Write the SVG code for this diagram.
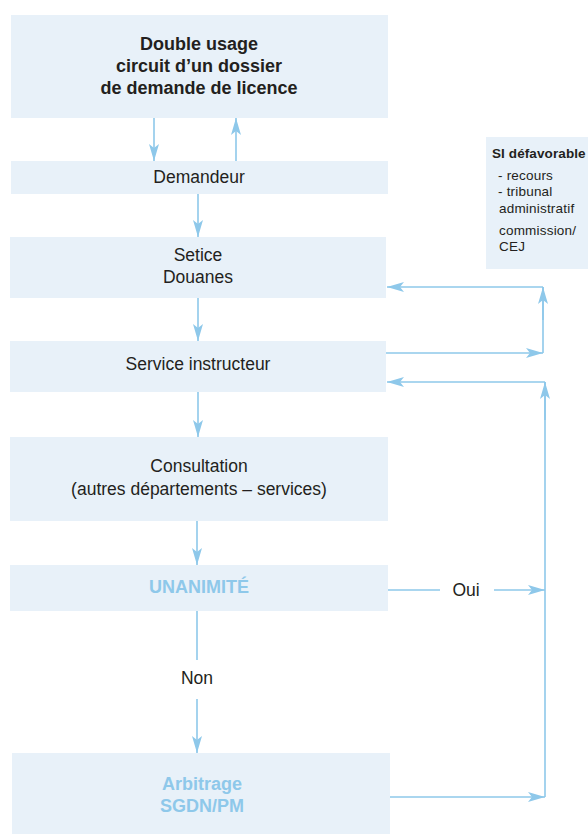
<svg xmlns="http://www.w3.org/2000/svg" width="588" height="834" viewBox="0 0 588 834">
  <style>
    .box { fill: #e8f1f9; }
    .t { font-family: "Liberation Sans", Arial, sans-serif; font-size: 17.5px; fill: #231f20; text-anchor: middle; }
    .tb { font-family: "Liberation Sans", Arial, sans-serif; font-size: 18px; font-weight: bold; fill: #231f20; text-anchor: middle; }
    .hl { fill: #8ec8ea; }
    .side { font-family: "Liberation Sans", Arial, sans-serif; font-size: 13.5px; letter-spacing: 0.2px; fill: #231f20; }
    .sideb { font-family: "Liberation Sans", Arial, sans-serif; font-size: 13.5px; font-weight: bold; letter-spacing: 0.1px; fill: #231f20; }
    .c { fill: none; stroke: #8ec8ea; stroke-width: 1.6; }
    .ca { fill: none; stroke: #8ec8ea; stroke-width: 1.6; marker-end: url(#arr); }
  </style>
  <defs>
    <marker id="arr" markerUnits="userSpaceOnUse" markerWidth="18" markerHeight="10" refX="17" refY="5" orient="auto">
      <path d="M0,0 L17,5 L0,10 L4,5 z" fill="#8ec8ea"/>
    </marker>
  </defs>
  <rect width="588" height="834" fill="#ffffff"/>

  <g id="titre">
    <rect class="box" x="11" y="15" width="377" height="103"/>
    <text class="tb" x="199" y="50">Double usage</text>
    <text class="tb" x="199" y="72">circuit d’un dossier</text>
    <text class="tb" x="199" y="94">de demande de licence</text>
  </g>

  <g id="demandeur">
    <rect class="box" x="11" y="161" width="377" height="33"/>
    <text class="t" x="199" y="183">Demandeur</text>
  </g>

  <g id="setice">
    <rect class="box" x="10" y="237" width="376" height="61"/>
    <text class="t" x="198" y="261">Setice</text>
    <text class="t" x="198" y="283">Douanes</text>
  </g>

  <g id="service">
    <rect class="box" x="10" y="341" width="376" height="51"/>
    <text class="t" x="198" y="370">Service instructeur</text>
  </g>

  <g id="consultation">
    <rect class="box" x="10" y="437" width="378" height="84"/>
    <text class="t" x="199" y="472">Consultation</text>
    <text class="t" x="199" y="495">(autres départements – services)</text>
  </g>

  <g id="unanimite">
    <rect class="box" x="10" y="565" width="378" height="46"/>
    <text class="tb hl" x="199" y="593">UNANIMITÉ</text>
  </g>

  <g id="arbitrage">
    <rect class="box" x="12" y="753" width="378" height="81"/>
    <text class="tb hl" x="202" y="790">Arbitrage</text>
    <text class="tb hl" x="202" y="812">SGDN/PM</text>
  </g>

  <g id="defavorable">
    <rect class="box" x="486" y="137" width="102" height="132"/>
    <text class="sideb" x="492" y="158">SI défavorable</text>
    <text class="side" x="498" y="180">- recours</text>
    <text class="side" x="498" y="196">- tribunal</text>
    <text class="side" x="499" y="213">administratif</text>
    <text class="side" x="499" y="235">commission/</text>
    <text class="side" x="499" y="251">CEJ</text>
  </g>

  <g id="connecteurs">
    <path class="ca" d="M154,118 V161"/>
    <path class="ca" d="M236,161 V118"/>
    <path class="ca" d="M198,194 V237"/>
    <path class="ca" d="M198,298 V341"/>
    <path class="ca" d="M198,392 V437"/>
    <path class="ca" d="M197,521 V565"/>
    <path class="c" d="M197,611 V660"/>
    <path class="ca" d="M197,699 V753"/>
    <path class="c" d="M388,590 H440"/>
    <path class="ca" d="M494,590 H545"/>
    <path class="ca" d="M390,797 H545"/>
    <path class="c" d="M545,797 V382"/>
    <path class="ca" d="M545,420 V382"/>
    <path class="ca" d="M545,382 H387"/>
    <path class="ca" d="M386,353 H543"/>
    <path class="c" d="M543,353 V287"/>
    <path class="ca" d="M543,320 V287"/>
    <path class="ca" d="M543,287 H387"/>
  </g>

  <text class="t" x="197" y="684">Non</text>
  <text class="t" x="466" y="596">Oui</text>
</svg>
